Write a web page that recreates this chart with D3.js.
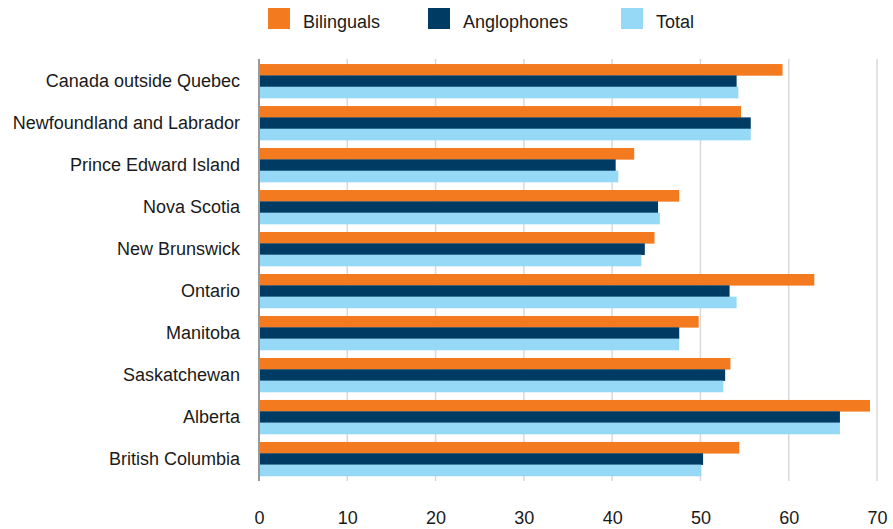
<!DOCTYPE html>
<html>
<head>
<meta charset="utf-8">
<script src="https://cdn.jsdelivr.net/npm/d3@7"></script>
<style>
  html, body { margin: 0; padding: 0; background: #fff; }
  svg { display: block; font-family: "Liberation Sans", Arial, Helvetica, sans-serif; }
</style>
</head>
<body>
<svg id="chart" width="893" height="529"></svg>
<script>
// Provinces, top to bottom
const regions = [
  "Canada outside Quebec",
  "Newfoundland and Labrador",
  "Prince Edward Island",
  "Nova Scotia",
  "New Brunswick",
  "Ontario",
  "Manitoba",
  "Saskatchewan",
  "Alberta",
  "British Columbia"
];

const seriesNames = ["Bilinguals", "Anglophones", "Total"];

const bilinguals  = [59.3, 54.6, 42.5, 47.6, 44.8, 62.9, 49.8, 53.4, 69.2, 54.4];
const anglophones = [54.1, 55.7, 40.4, 45.2, 43.7, 53.3, 47.6, 52.8, 65.8, 50.3];
const total       = [54.3, 55.7, 40.7, 45.4, 43.3, 54.1, 47.6, 52.6, 65.8, 50.1];

const xTicks = [0, 10, 20, 30, 40, 50, 60, 70];

const colors = ["#f47a20", "#003b64", "#95d9f7"];

const svg = d3.select("#chart");
const margin = { left: 259, right: 16, top: 59, bottom: 48 };
const W = 893, H = 529;

const x = d3.scaleLinear().domain([0, 70]).range([margin.left, W - margin.right]);
const y = d3.scaleBand().domain(regions)
  .range([margin.top, H - margin.bottom])
  .paddingInner(0.19).paddingOuter(0.12);
const ySub = d3.scaleBand().domain(seriesNames).range([0, y.bandwidth()]);

const valuesBySeries = [bilinguals, anglophones, total];

// Vertical gridlines
svg.append("g")
  .selectAll("line")
  .data(xTicks.filter(d => d > 0))
  .join("line")
  .attr("x1", d => x(d)).attr("x2", d => x(d))
  .attr("y1", margin.top).attr("y2", H - margin.bottom)
  .attr("stroke", "#d9d9d9").attr("stroke-width", 1.5);

// Bars
const groups = svg.append("g")
  .selectAll("g")
  .data(regions)
  .join("g")
  .attr("transform", d => `translate(0,${y(d)})`);

groups.selectAll("rect")
  .data((d, i) => seriesNames.map((s, k) => ({ s, k, v: valuesBySeries[k][i] })))
  .join("rect")
  .attr("x", x(0))
  .attr("y", d => ySub(d.s))
  .attr("width", d => x(d.v) - x(0))
  .attr("height", ySub.bandwidth() + 0.3)
  .attr("fill", d => colors[d.k]);

// Bottom axis (labels only)
const xAxis = svg.append("g")
  .attr("transform", `translate(0,${H - margin.bottom})`)
  .call(d3.axisBottom(x).tickValues(xTicks).tickSize(0).tickPadding(30));
xAxis.select(".domain").remove();
xAxis.selectAll("text")
  .attr("font-size", 18)
  .attr("fill", "#1a1a1a")
  .attr("font-family", "'Liberation Sans', Arial, sans-serif");

// Left axis with category labels
const yAxis = svg.append("g")
  .attr("transform", `translate(${margin.left},0)`)
  .call(d3.axisLeft(y).tickSize(0).tickPadding(19));
yAxis.select(".domain").remove();
yAxis.selectAll("text")
  .attr("font-size", 18)
  .attr("fill", "#1a1a1a")
  .attr("font-family", "'Liberation Sans', Arial, sans-serif");

// Axis line at zero
svg.append("line")
  .attr("x1", x(0)).attr("x2", x(0))
  .attr("y1", margin.top).attr("y2", H - margin.bottom)
  .attr("stroke", "#999").attr("stroke-width", 2);

// Legend
const legendX = [268, 428, 621];
const legend = svg.append("g")
  .selectAll("g")
  .data(seriesNames)
  .join("g")
  .attr("transform", (d, i) => `translate(${legendX[i]},8)`);
legend.append("rect")
  .attr("width", 22).attr("height", 21)
  .attr("fill", (d, i) => colors[i]);
legend.append("text")
  .attr("x", 35).attr("y", 20)
  .attr("font-size", 18)
  .attr("fill", "#1a1a1a")
  .text(d => d);
</script>
</body>
</html>
